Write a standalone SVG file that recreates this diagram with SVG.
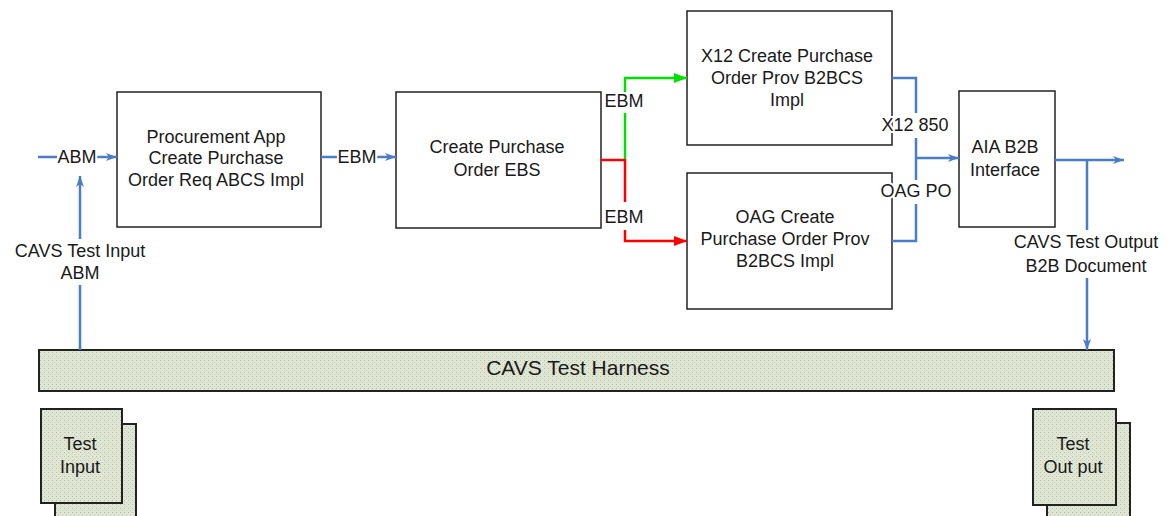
<svg xmlns="http://www.w3.org/2000/svg" width="1167" height="516" viewBox="0 0 1167 516">
<style>
text{font-family:"Liberation Sans",Arial,sans-serif;font-size:18px;fill:#1a1a1a;text-anchor:middle}
.lbl{stroke:#fff;stroke-width:4;paint-order:stroke;stroke-linejoin:round}
.box{fill:#fff;stroke:#222;stroke-width:1.5}
.pat{fill:url(#dots);stroke:#222;stroke-width:2}
.blue{fill:none;stroke:#4a7cc8;stroke-width:2.5}
.green{fill:none;stroke:#00e000;stroke-width:2.5}
.red{fill:none;stroke:#ff0000;stroke-width:2.5}
</style>
<defs>
<pattern id="dots" width="4" height="4" patternUnits="userSpaceOnUse">
<rect width="4" height="4" fill="#dfe6d2"/>
<rect x="0" y="0" width="1" height="1" fill="#b9bdb5"/>
<rect x="2" y="2" width="1" height="1" fill="#c9ccc3"/>
</pattern>
<marker id="ab" markerUnits="userSpaceOnUse" markerWidth="12" markerHeight="10" refX="11" refY="5" orient="auto"><path d="M0,1 L11,5 L0,9 L3,5 Z" fill="#4a7cc8"/></marker>
<marker id="ag" markerUnits="userSpaceOnUse" markerWidth="14" markerHeight="12" refX="13" refY="6" orient="auto"><path d="M0,1 L13,6 L0,11 Z" fill="#00e000"/></marker>
<marker id="ar" markerUnits="userSpaceOnUse" markerWidth="14" markerHeight="12" refX="13" refY="6" orient="auto"><path d="M0,1 L13,6 L0,11 Z" fill="#ff0000"/></marker>
</defs>
<rect width="1167" height="516" fill="#fff"/>

<g id="procurement">
<rect class="box" x="117" y="92" width="204" height="135"/>
<text x="216" y="143">Procurement App</text>
<text x="216" y="164">Create Purchase</text>
<text x="216" y="186">Order Req ABCS Impl</text>
</g>
<g id="ebs">
<rect class="box" x="396" y="92" width="205" height="136"/>
<text x="497" y="153">Create Purchase</text>
<text x="497" y="176">Order EBS</text>
</g>
<g id="x12">
<rect class="box" x="687" y="11" width="205" height="134"/>
<text x="787" y="62">X12 Create Purchase</text>
<text x="787" y="84">Order Prov B2BCS</text>
<text x="787" y="106">Impl</text>
</g>
<g id="oag">
<rect class="box" x="687" y="173" width="205" height="136"/>
<text x="785" y="223">OAG Create</text>
<text x="785" y="245">Purchase Order Prov</text>
<text x="785" y="267">B2BCS Impl</text>
</g>
<g id="aia">
<rect class="box" x="959" y="91" width="96" height="136"/>
<text x="1005" y="153">AIA B2B</text>
<text x="1005" y="176">Interface</text>
</g>
<g id="harness">
<rect class="pat" x="39" y="350" width="1075" height="41"/>
<text x="578" y="375" style="font-size:21px">CAVS Test Harness</text>
</g>
<g id="test-input">
<rect class="pat" x="55" y="424" width="81" height="100"/>
<rect class="pat" x="41" y="409" width="81" height="94"/>
<text x="80" y="450">Test</text>
<text x="80" y="473">Input</text>
</g>
<g id="test-output">
<rect class="pat" x="1047" y="423" width="83" height="100"/>
<rect class="pat" x="1033" y="409" width="83" height="96"/>
<text x="1073" y="450">Test</text>
<text x="1073" y="473">Out put</text>
</g>

<g id="connectors">
<line class="blue" x1="38" y1="157" x2="57" y2="157"/>
<line class="blue" x1="97" y1="157" x2="117" y2="157" marker-end="url(#ab)"/>
<text class="lbl" x="77" y="163">ABM</text>
<line class="blue" x1="80" y1="350" x2="80" y2="285"/>
<line class="blue" x1="80" y1="239" x2="80" y2="176" marker-end="url(#ab)"/>
<text class="lbl" x="80" y="257">CAVS Test Input</text>
<text class="lbl" x="80" y="279">ABM</text>
<line class="blue" x1="321" y1="157" x2="337" y2="157"/>
<line class="blue" x1="377" y1="157" x2="396" y2="157" marker-end="url(#ab)"/>
<text class="lbl" x="357" y="163">EBM</text>
<polyline class="red" points="601,160 625,160 625,202"/>
<polyline class="red" points="625,230 625,241 687,241" marker-end="url(#ar)"/>
<text class="lbl" x="624" y="223">EBM</text>
<polyline class="green" points="625,159 625,113"/>
<polyline class="green" points="625,92 625,78 687,78" marker-end="url(#ag)"/>
<text class="lbl" x="624" y="107">EBM</text>
<polyline class="blue" points="892,78 916,78 916,113"/>
<line class="blue" x1="916" y1="138" x2="916" y2="180"/>
<polyline class="blue" points="916,204 916,241 892,241"/>
<line class="blue" x1="916" y1="158" x2="959" y2="158" marker-end="url(#ab)"/>
<text class="lbl" x="915" y="131">X12 850</text>
<text class="lbl" x="916" y="197">OAG PO</text>
<line class="blue" x1="1055" y1="160" x2="1124" y2="160" marker-end="url(#ab)"/>
<line class="blue" x1="1087" y1="160" x2="1087" y2="230"/>
<line class="blue" x1="1087" y1="278" x2="1087" y2="350" marker-end="url(#ab)"/>
<text class="lbl" x="1086" y="248">CAVS Test Output</text>
<text class="lbl" x="1086" y="272">B2B Document</text>
</g>
</svg>
